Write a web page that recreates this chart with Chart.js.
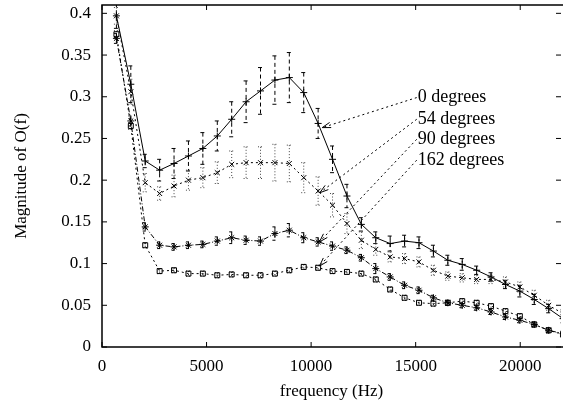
<!DOCTYPE html>
<html>
<head>
<meta charset="utf-8">
<script src="https://cdn.jsdelivr.net/npm/chart.js@4.4.0/dist/chart.umd.min.js"></script>
<style>
    html, body { margin: 0; padding: 0; background: #fff; }
    canvas { display: block; }
</style>
</head>
<body>
<canvas id="magnitudeChart" width="566" height="407"></canvas>
<script>
// frequency bins (Hz)
const frequencies = [689, 1378, 2067, 2756, 3445, 4134, 4823, 5513, 6202, 6891, 7580, 8269,
    8958, 9647, 10336, 11025, 11714, 12403, 13092, 13781, 14470, 15159, 15848, 16538,
    17227, 17916, 18605, 19294, 19983, 20672, 21361, 22050];

const mag0 = [0.397, 0.315, 0.223, 0.212, 0.220, 0.229, 0.238, 0.253, 0.273, 0.294, 0.307, 0.320,
    0.323, 0.305, 0.268, 0.225, 0.181, 0.147, 0.131, 0.124, 0.127, 0.125, 0.115, 0.104,
    0.099, 0.092, 0.084, 0.075, 0.067, 0.057, 0.046, 0.034];
const err0 = [0.015, 0.022, 0.008, 0.013, 0.018, 0.018, 0.019, 0.018, 0.021, 0.025, 0.028, 0.029,
    0.030, 0.024, 0.018, 0.016, 0.014, 0.008, 0.007, 0.009, 0.007, 0.007, 0.007, 0.006,
    0.007, 0.005, 0.005, 0.005, 0.007, 0.006, 0.005, 0.005];

const mag54 = [0.397, 0.306, 0.197, 0.184, 0.193, 0.200, 0.203, 0.209, 0.219, 0.221, 0.221, 0.221,
    0.220, 0.203, 0.187, 0.170, 0.148, 0.128, 0.117, 0.108, 0.106, 0.102, 0.092, 0.085,
    0.083, 0.081, 0.081, 0.078, 0.072, 0.062, 0.050, 0.040];
const err54 = [0.010, 0.015, 0.011, 0.008, 0.013, 0.012, 0.012, 0.013, 0.016, 0.019, 0.019, 0.022,
    0.022, 0.018, 0.017, 0.014, 0.012, 0.010, 0.007, 0.006, 0.006, 0.006, 0.006, 0.005,
    0.005, 0.005, 0.005, 0.006, 0.006, 0.006, 0.006, 0.005];

const mag90 = [0.370, 0.271, 0.144, 0.122, 0.120, 0.122, 0.123, 0.127, 0.131, 0.128, 0.127, 0.136,
    0.140, 0.131, 0.126, 0.121, 0.116, 0.107, 0.094, 0.084, 0.074, 0.068, 0.059, 0.053,
    0.050, 0.047, 0.042, 0.036, 0.032, 0.027, 0.020, 0.016];
const err90 = [0.006, 0.006, 0.005, 0.004, 0.004, 0.004, 0.004, 0.005, 0.007, 0.005, 0.005, 0.008,
    0.008, 0.006, 0.005, 0.005, 0.004, 0.004, 0.006, 0.004, 0.004, 0.004, 0.003, 0.003,
    0.003, 0.003, 0.003, 0.003, 0.003, 0.003, 0.003, 0.003];

const mag162 = [0.375, 0.265, 0.122, 0.091, 0.092, 0.088, 0.088, 0.086, 0.087, 0.086, 0.086, 0.088,
    0.092, 0.096, 0.095, 0.091, 0.090, 0.088, 0.081, 0.069, 0.059, 0.053, 0.052, 0.053,
    0.055, 0.053, 0.049, 0.043, 0.037, 0.027, 0.020, 0.015];
const err162 = [0.004, 0.004, 0.003, 0.003, 0.003, 0.003, 0.003, 0.003, 0.003, 0.003, 0.003, 0.003,
    0.003, 0.003, 0.003, 0.003, 0.003, 0.003, 0.003, 0.003, 0.003, 0.003, 0.003, 0.003,
    0.003, 0.003, 0.003, 0.003, 0.003, 0.003, 0.003, 0.003];

const seriesNames = ['0 degrees', '54 degrees', '90 degrees', '162 degrees'];

const xTickValues = [0, 5000, 10000, 15000, 20000];
const yTickValues = [0, 0.05, 0.1, 0.15, 0.2, 0.25, 0.3, 0.35, 0.4];

// where the callout text sits and where each arrow points (data coords)
const calloutText = [
    { x: 15050, y: 0.299 },
    { x: 15050, y: 0.273 },
    { x: 15050, y: 0.249 },
    { x: 15050, y: 0.224 }
];
const calloutTip = [
    { x: 10530, y: 0.263 },
    { x: 10420, y: 0.185 },
    { x: 10400, y: 0.126 },
    { x: 10400, y: 0.097 }
];

const FONT = '"Liberation Serif", "Times New Roman", serif';

function toPoints(values) {
    return values.map((v, i) => ({ x: frequencies[i], y: v }));
}

const errorBarPlugin = {
    id: 'errorBars',
    beforeDatasetsDraw(chart) {
        const { ctx, chartArea: a, scales: { x, y } } = chart;
        ctx.save();
        ctx.beginPath();
        ctx.rect(a.left, a.top, a.right - a.left, a.bottom - a.top);
        ctx.clip();
        chart.data.datasets.forEach(ds => {
            ctx.strokeStyle = ds.errorColor;
            ctx.lineWidth = 1;
            ctx.setLineDash(ds.errorDash);
            ds.data.forEach((pt, i) => {
                const px = x.getPixelForValue(pt.x);
                const top = y.getPixelForValue(pt.y + ds.errors[i]);
                const bottom = y.getPixelForValue(pt.y - ds.errors[i]);
                ctx.beginPath();
                ctx.moveTo(px, top);
                ctx.lineTo(px, bottom);
                ctx.moveTo(px - 2.5, top);
                ctx.lineTo(px + 2.5, top);
                ctx.moveTo(px - 2.5, bottom);
                ctx.lineTo(px + 2.5, bottom);
                ctx.stroke();
            });
        });
        ctx.restore();
    }
};

// box round the plot (right side is cut off by the image edge) with inward ticks
const framePlugin = {
    id: 'frame',
    afterDraw(chart) {
        const { ctx, chartArea: a, scales: { x, y } } = chart;
        ctx.save();
        ctx.strokeStyle = '#000';
        ctx.setLineDash([]);
        ctx.lineWidth = 1.5;
        ctx.beginPath();
        ctx.moveTo(a.right + 2, a.top);
        ctx.lineTo(a.left, a.top);
        ctx.lineTo(a.left, a.bottom);
        ctx.lineTo(a.right + 2, a.bottom);
        ctx.stroke();
        ctx.lineWidth = 1;
        ctx.beginPath();
        x.ticks.forEach(t => {
            const px = x.getPixelForValue(t.value);
            ctx.moveTo(px, a.bottom);
            ctx.lineTo(px, a.bottom - 5);
            ctx.moveTo(px, a.top);
            ctx.lineTo(px, a.top + 5);
        });
        y.ticks.forEach(t => {
            const py = y.getPixelForValue(t.value);
            ctx.moveTo(a.left, py);
            ctx.lineTo(a.left + 5, py);
            ctx.moveTo(a.right, py);
            ctx.lineTo(a.right - 5, py);
        });
        ctx.stroke();
        ctx.restore();
    }
};

const calloutPlugin = {
    id: 'callouts',
    afterDatasetsDraw(chart) {
        const { ctx, scales: { x, y } } = chart;
        ctx.save();
        ctx.strokeStyle = '#000';
        ctx.fillStyle = '#000';
        ctx.lineWidth = 1;
        ctx.font = '18px ' + FONT;
        ctx.textAlign = 'left';
        ctx.textBaseline = 'middle';
        seriesNames.forEach((name, i) => {
            const tx = x.getPixelForValue(calloutText[i].x);
            const ty = y.getPixelForValue(calloutText[i].y);
            const ax = x.getPixelForValue(calloutTip[i].x);
            const ay = y.getPixelForValue(calloutTip[i].y);
            ctx.fillText(name, tx + 1, ty);
            ctx.setLineDash([2, 3]);
            ctx.beginPath();
            ctx.moveTo(tx, ty);
            ctx.lineTo(ax, ay);
            ctx.stroke();
            // open arrow head
            const ang = Math.atan2(ay - ty, ax - tx);
            ctx.setLineDash([]);
            ctx.beginPath();
            ctx.moveTo(ax - 9 * Math.cos(ang - 0.3), ay - 9 * Math.sin(ang - 0.3));
            ctx.lineTo(ax, ay);
            ctx.lineTo(ax - 9 * Math.cos(ang + 0.3), ay - 9 * Math.sin(ang + 0.3));
            ctx.stroke();
        });
        ctx.restore();
    }
};

const ctx = document.getElementById('magnitudeChart').getContext('2d');
new Chart(ctx, {
    type: 'line',
    data: {
        datasets: [
            {
                label: seriesNames[0],
                data: toPoints(mag0),
                errors: err0,
                errorDash: [4, 3],
                errorColor: '#000',
                borderColor: '#000',
                borderWidth: 1,
                pointStyle: 'cross',
                pointRadius: 3.5,
                pointBorderColor: '#000',
                pointBorderWidth: 1
            },
            {
                label: seriesNames[1],
                data: toPoints(mag54),
                errors: err54,
                errorDash: [1, 2],
                errorColor: '#444',
                borderColor: '#000',
                borderWidth: 1,
                borderDash: [2, 3],
                pointStyle: 'crossRot',
                pointRadius: 3.5,
                pointBorderColor: '#000',
                pointBorderWidth: 1
            },
            {
                label: seriesNames[2],
                data: toPoints(mag90),
                errors: err90,
                errorDash: [3, 2, 1, 2],
                errorColor: '#000',
                borderColor: '#000',
                borderWidth: 1,
                borderDash: [5, 2, 1, 2],
                pointStyle: 'star',
                pointRadius: 3.5,
                pointBorderColor: '#000',
                pointBorderWidth: 1
            },
            {
                label: seriesNames[3],
                data: toPoints(mag162),
                errors: err162,
                errorDash: [1, 2],
                errorColor: '#000',
                borderColor: '#000',
                borderWidth: 1,
                borderDash: [2, 3],
                pointStyle: 'rect',
                pointRadius: 3.5,
                pointBackgroundColor: 'rgba(0,0,0,0)',
                pointBorderColor: '#000',
                pointBorderWidth: 1
            }
        ]
    },
    options: {
        responsive: false,
        animation: false,
        layout: { padding: { top: 3, right: 0, left: 0, bottom: 0 } },
        elements: { line: { tension: 0 } },
        plugins: {
            legend: { display: false },
            tooltip: { enabled: false }
        },
        scales: {
            x: {
                type: 'linear',
                min: 0,
                max: 21950,
                grid: { display: false, drawTicks: false },
                border: { display: false },
                afterBuildTicks: s => { s.ticks = xTickValues.map(v => ({ value: v })); },
                afterFit: s => {
                    s.height = 60;
                    s.paddingLeft = 0;
                    s.paddingRight = 0;
                },
                ticks: {
                    autoSkip: false,
                    padding: 9,
                    color: '#000',
                    font: { family: FONT, size: 17 },
                    maxRotation: 0,
                    callback: v => String(v)
                },
                title: {
                    display: true,
                    text: 'frequency (Hz)',
                    color: '#000',
                    font: { family: FONT, size: 17 },
                    padding: { top: 0, bottom: 5 }
                }
            },
            y: {
                type: 'linear',
                min: 0,
                max: 0.41,
                grid: { display: false, drawTicks: false },
                border: { display: false },
                afterBuildTicks: s => { s.ticks = yTickValues.map(v => ({ value: v })); },
                afterFit: s => {
                    s.width = 102;
                    s.paddingTop = 0;
                    s.paddingBottom = 0;
                },
                ticks: {
                    autoSkip: false,
                    padding: 11,
                    color: '#000',
                    font: { family: FONT, size: 17 },
                    callback: v => String(+v.toFixed(2))
                },
                title: {
                    display: true,
                    text: 'Magnitude of O(f)',
                    color: '#000',
                    font: { family: FONT, size: 17 },
                    padding: { top: 11, bottom: 0 }
                }
            }
        }
    },
    plugins: [errorBarPlugin, calloutPlugin, framePlugin]
});
</script>
</body>
</html>
